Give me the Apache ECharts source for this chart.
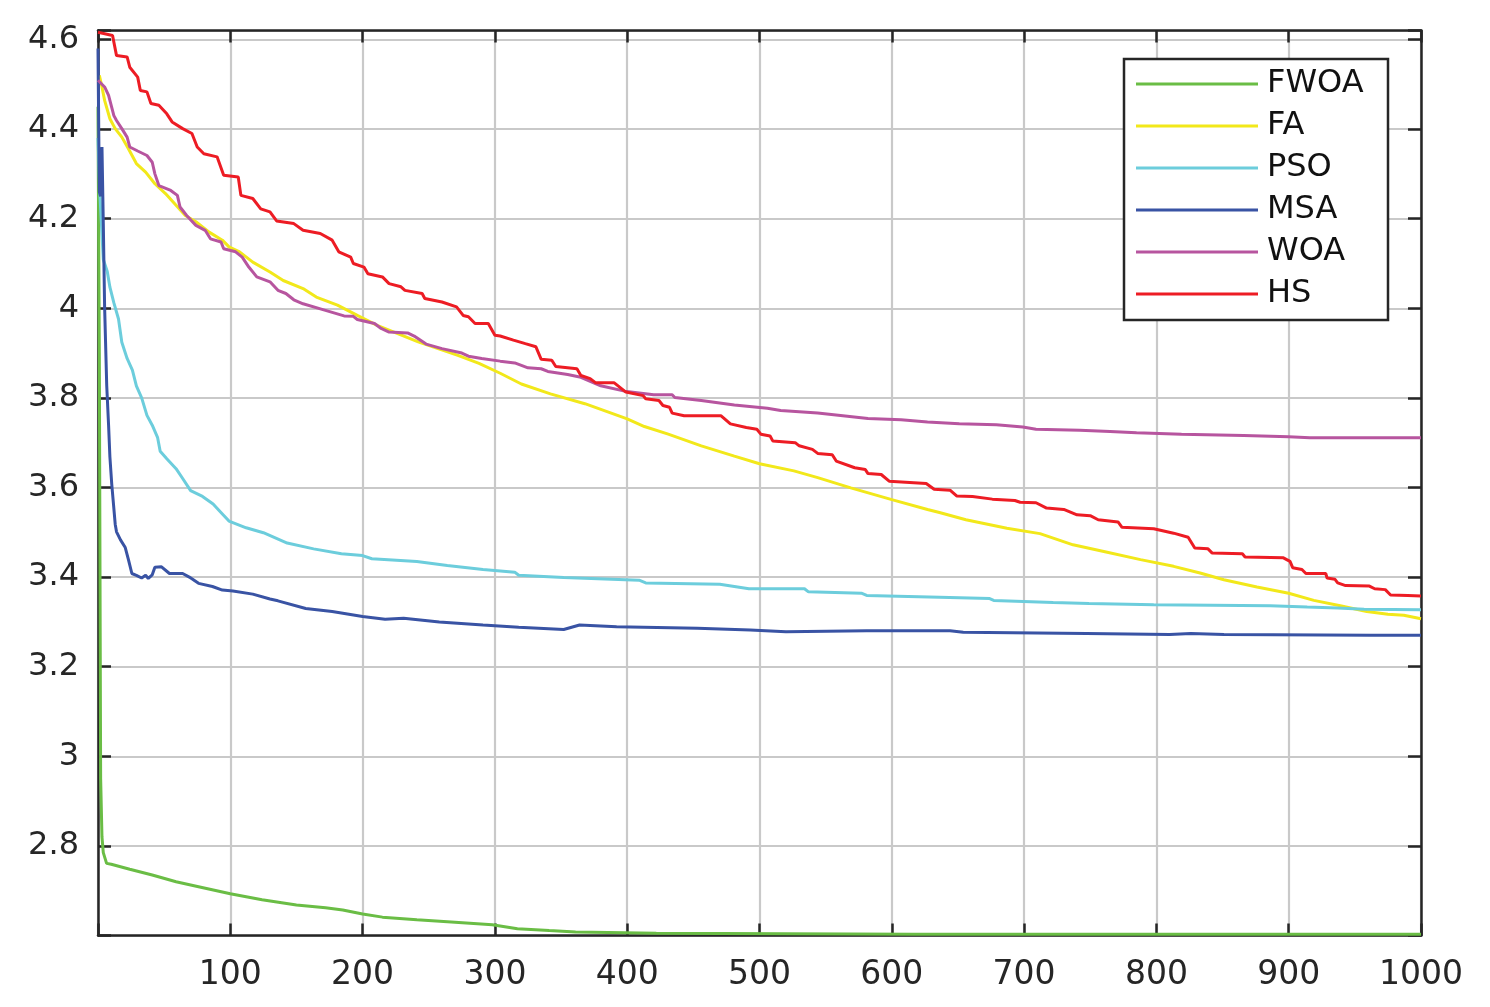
<!DOCTYPE html>
<html>
<head>
<meta charset="utf-8">
<script src="https://cdn.jsdelivr.net/npm/echarts@6/dist/echarts.min.js"></script>
<style>
html,body{margin:0;padding:0;background:#fff;}
#chart{width:1490px;height:1007px;}
</style>
</head>
<body>
<div id="chart"></div>
<script>
// ---- data ----
const seriesNames = ['FWOA', 'FA', 'PSO', 'MSA', 'WOA', 'HS'];
const xTickLabels = ['100','200','300','400','500','600','700','800','900','1000'];
const yTickLabels = ['2.8','3','3.2','3.4','3.6','3.8','4','4.2','4.4','4.6'];

const fwoaX = [0, 1, 2, 3, 4, 6.5, 10, 24, 41, 59, 76, 100, 124, 150, 172, 185, 200, 215, 241, 267, 298, 317, 341, 361, 422, 617, 1000];
const fwoaY = [4.45, 3.90, 2.95, 2.82, 2.785, 2.761, 2.759, 2.748, 2.735, 2.720, 2.709, 2.693, 2.680, 2.668, 2.662, 2.657, 2.648, 2.641, 2.635, 2.630, 2.624, 2.615, 2.611, 2.608, 2.605, 2.603, 2.603];

const faX = [1, 3, 5, 9, 13, 18, 23, 29, 36, 43, 51, 59, 66, 74, 84, 94, 99, 107, 117, 130, 140, 155, 165, 181, 196, 211, 227, 242, 257, 272, 288, 304, 320, 342, 368, 400, 413, 431, 456, 481, 500, 526, 544, 569, 600, 627, 636, 656, 687, 712, 737, 762, 788, 813, 833, 851, 876, 900, 919, 939, 959, 975, 987, 1000];
const faY = [4.520, 4.494, 4.464, 4.423, 4.401, 4.382, 4.356, 4.323, 4.304, 4.278, 4.256, 4.230, 4.207, 4.193, 4.170, 4.152, 4.137, 4.126, 4.103, 4.081, 4.062, 4.044, 4.025, 4.007, 3.984, 3.962, 3.943, 3.925, 3.910, 3.895, 3.877, 3.855, 3.831, 3.809, 3.787, 3.753, 3.736, 3.719, 3.693, 3.670, 3.653, 3.637, 3.622, 3.599, 3.573, 3.551, 3.544, 3.528, 3.509, 3.497, 3.472, 3.456, 3.439, 3.424, 3.409, 3.394, 3.378, 3.364, 3.348, 3.336, 3.323, 3.317, 3.315, 3.307];

const psoX = [0, 1.5, 4, 7, 9, 12, 15.5, 18, 22, 26, 29, 33, 37, 41, 45, 47, 52, 59, 64, 70, 79, 87, 94, 99, 112, 125, 143, 163, 184, 200, 207, 241, 264, 291, 315, 318, 352, 409, 414, 470, 492, 534, 537, 577, 581, 636, 674, 677, 722, 749, 798, 886, 914, 937, 957, 1000];
const psoY = [4.38, 4.25, 4.109, 4.082, 4.047, 4.012, 3.976, 3.924, 3.888, 3.862, 3.827, 3.800, 3.761, 3.739, 3.712, 3.681, 3.664, 3.642, 3.620, 3.593, 3.580, 3.563, 3.541, 3.525, 3.510, 3.499, 3.476, 3.463, 3.452, 3.448, 3.441, 3.435, 3.426, 3.417, 3.411, 3.404, 3.399, 3.393, 3.387, 3.384, 3.374, 3.374, 3.367, 3.364, 3.359, 3.355, 3.352, 3.348, 3.343, 3.341, 3.338, 3.336, 3.333, 3.331, 3.328, 3.327];

const msaX = [0, 1, 2, 3, 4, 5, 6.6, 8, 9, 10.4, 11.7, 13, 14, 17, 20.6, 23, 25.6, 29, 33, 36, 38, 41, 43, 48, 54, 64, 69, 76, 86.5, 94, 102, 117, 130, 136, 157, 177, 200, 217, 231, 258, 291, 318, 352, 364, 392, 453, 493, 520, 581, 644, 654, 747, 810, 826, 851, 962, 1000];
const msaY = [4.58, 4.26, 4.25, 4.36, 4.19, 4.003, 3.827, 3.739, 3.668, 3.607, 3.563, 3.518, 3.501, 3.483, 3.466, 3.439, 3.408, 3.404, 3.398, 3.404, 3.397, 3.405, 3.422, 3.423, 3.408, 3.408, 3.400, 3.386, 3.379, 3.371, 3.369, 3.362, 3.351, 3.347, 3.330, 3.323, 3.312, 3.306, 3.308, 3.300, 3.293, 3.288, 3.283, 3.293, 3.289, 3.286, 3.282, 3.278, 3.280, 3.280, 3.277, 3.274, 3.272, 3.274, 3.272, 3.270, 3.270];

const woaX = [0, 5, 8, 12, 14, 18, 22, 24, 30, 37, 41, 43, 46, 55, 60, 62, 67, 74, 81, 85, 93, 95, 104, 109, 114, 120, 130, 136, 142, 148, 155, 170, 186, 193, 196, 209, 214, 220, 234, 239, 248, 260, 275, 280, 290, 304, 315, 325, 335, 340, 355, 365, 380, 398, 420, 434, 436, 456, 481, 506, 516, 544, 582, 607, 627, 651, 679, 699, 709, 742, 765, 785, 819, 866, 900, 916, 1000];
const woaY = [4.509, 4.494, 4.475, 4.430, 4.419, 4.401, 4.382, 4.360, 4.351, 4.341, 4.326, 4.300, 4.274, 4.263, 4.252, 4.226, 4.207, 4.185, 4.174, 4.155, 4.148, 4.133, 4.126, 4.114, 4.092, 4.070, 4.059, 4.040, 4.033, 4.019, 4.010, 3.997, 3.983, 3.982, 3.975, 3.966, 3.955, 3.947, 3.945, 3.938, 3.920, 3.910, 3.900, 3.893, 3.888, 3.882, 3.878, 3.867, 3.865, 3.859, 3.852, 3.846, 3.827, 3.815, 3.807, 3.807, 3.801, 3.794, 3.784, 3.777, 3.772, 3.766, 3.754, 3.751, 3.746, 3.742, 3.740, 3.735, 3.730, 3.728, 3.725, 3.722, 3.719, 3.716, 3.713, 3.711, 3.711];

const hsX = [0, 11, 14, 22, 24, 30, 32, 37, 40, 46, 52, 56, 64, 71, 75, 80, 90, 95, 106, 108, 117, 123, 130, 135, 148, 155, 168, 177, 182, 191, 193, 201, 204, 215, 220, 229, 232, 245, 247, 260, 271, 276, 280, 285, 295, 300, 304, 314, 323, 331, 335, 343, 346, 362, 365, 372, 376, 390, 399, 412, 414, 424, 427, 432, 434, 443, 471, 478, 490, 498, 501, 508, 510, 527, 530, 540, 544, 555, 558, 572, 580, 582, 592, 598, 626, 632, 644, 649, 661, 676, 693, 697, 709, 717, 730, 740, 750, 756, 771, 774, 798, 813, 824, 829, 839, 842, 865, 867, 896, 901, 903, 910, 913, 928, 929, 935, 937, 943, 961, 965, 973, 977, 990, 1000];
const hsY = [4.616, 4.609, 4.564, 4.561, 4.538, 4.516, 4.486, 4.483, 4.457, 4.453, 4.434, 4.416, 4.401, 4.390, 4.360, 4.345, 4.338, 4.297, 4.293, 4.252, 4.245, 4.222, 4.215, 4.195, 4.189, 4.174, 4.167, 4.152, 4.126, 4.114, 4.100, 4.092, 4.077, 4.070, 4.055, 4.048, 4.040, 4.033, 4.022, 4.014, 4.003, 3.984, 3.981, 3.966, 3.966, 3.940, 3.938, 3.929, 3.921, 3.914, 3.886, 3.884, 3.870, 3.865, 3.850, 3.843, 3.834, 3.834, 3.813, 3.805, 3.798, 3.794, 3.783, 3.779, 3.766, 3.760, 3.760, 3.742, 3.734, 3.730, 3.719, 3.715, 3.704, 3.700, 3.693, 3.685, 3.676, 3.673, 3.659, 3.644, 3.640, 3.631, 3.629, 3.614, 3.609, 3.596, 3.594, 3.581, 3.580, 3.574, 3.571, 3.567, 3.566, 3.554, 3.551, 3.539, 3.537, 3.528, 3.523, 3.511, 3.508, 3.498, 3.489, 3.465, 3.463, 3.454, 3.452, 3.445, 3.443, 3.435, 3.421, 3.417, 3.408, 3.408, 3.398, 3.395, 3.387, 3.381, 3.380, 3.374, 3.372, 3.360, 3.359, 3.358];

// ---- styles ----
const colors = ['#6abd45', '#f2e81a', '#6ccddc', '#3953a4', '#b7559f', '#ed1c24'];
const FONT = 'DejaVu Sans';
const AX = '#262626';
const GRID = '#c9c9c9';

function pairs(xs, ys) { return xs.map((x, i) => [x, ys[i]]); }
const allData = [pairs(fwoaX, fwoaY), pairs(faX, faY), pairs(psoX, psoY), pairs(msaX, msaY), pairs(woaX, woaY), pairs(hsX, hsY)];

function xFmt(v) { const s = String(Math.round(v)); return (Math.abs(v - Math.round(v)) < 1e-6 && xTickLabels.includes(s)) ? s : ''; }
function yFmt(v) { const r = Math.round(v * 10) / 10; const s = String(r); return (Math.abs(v - r) < 1e-6 && yTickLabels.includes(s)) ? s : ''; }

const axisLineStyle = { color: AX, width: 2.5 };
const chart = echarts.init(document.getElementById('chart'), null, { renderer: 'canvas' });
chart.setOption({
  backgroundColor: '#ffffff',
  animation: false,
  grid: { left: 98, right: 69, top: 30.5, bottom: 71.5, containLabel: false },
  legend: {
    orient: 'vertical', left: 1124, top: 59,
    data: seriesNames,
    icon: 'rect', itemWidth: 122, itemHeight: 3, itemGap: 10,
    padding: [9, 13, 10, 12],
    backgroundColor: '#ffffff', borderColor: AX, borderWidth: 2.5,
    textStyle: { fontFamily: FONT, fontSize: 32, color: '#111', lineHeight: 32, width: 108, padding: [0, 0, 0, 4] }
  },
  xAxis: [
    { type: 'value', position: 'bottom', min: 0, max: 1000, interval: 100,
      axisLine: { show: true, onZero: false, lineStyle: axisLineStyle },
      axisTick: { show: true, inside: true, length: 12, lineStyle: axisLineStyle },
      axisLabel: { show: true, formatter: xFmt, fontFamily: FONT, fontSize: 33, color: AX, margin: 23 },
      splitLine: { show: true, lineStyle: { color: GRID, width: 2.2 } } },
    { type: 'value', position: 'top', min: 0, max: 1000, interval: 100,
      axisLine: { show: true, onZero: false, lineStyle: axisLineStyle },
      axisTick: { show: true, inside: true, length: 12, lineStyle: axisLineStyle },
      axisLabel: { show: false }, splitLine: { show: false } }
  ],
  yAxis: [
    { type: 'value', position: 'left', min: 2.6, max: 4.62, interval: 0.2,
      axisLine: { show: true, onZero: false, lineStyle: axisLineStyle },
      axisTick: { show: true, inside: true, length: 13, lineStyle: axisLineStyle },
      axisLabel: { show: true, formatter: yFmt, fontFamily: FONT, fontSize: 32, color: AX, margin: 19 },
      splitLine: { show: true, lineStyle: { color: GRID, width: 2.2 } } },
    { type: 'value', position: 'right', min: 2.6, max: 4.62, interval: 0.2,
      axisLine: { show: true, onZero: false, lineStyle: axisLineStyle },
      axisTick: { show: true, inside: true, length: 13, lineStyle: axisLineStyle },
      axisLabel: { show: false }, splitLine: { show: false } }
  ],
  series: seriesNames.map((name, i) => ({
    name: name, type: 'line', xAxisIndex: 0, yAxisIndex: 0,
    data: allData[i], showSymbol: false, symbol: 'none', smooth: false,
    lineStyle: { color: colors[i], width: 3 }, itemStyle: { color: colors[i] },
    z: 2 + i, clip: true
  }))
});
</script>
</body>
</html>
